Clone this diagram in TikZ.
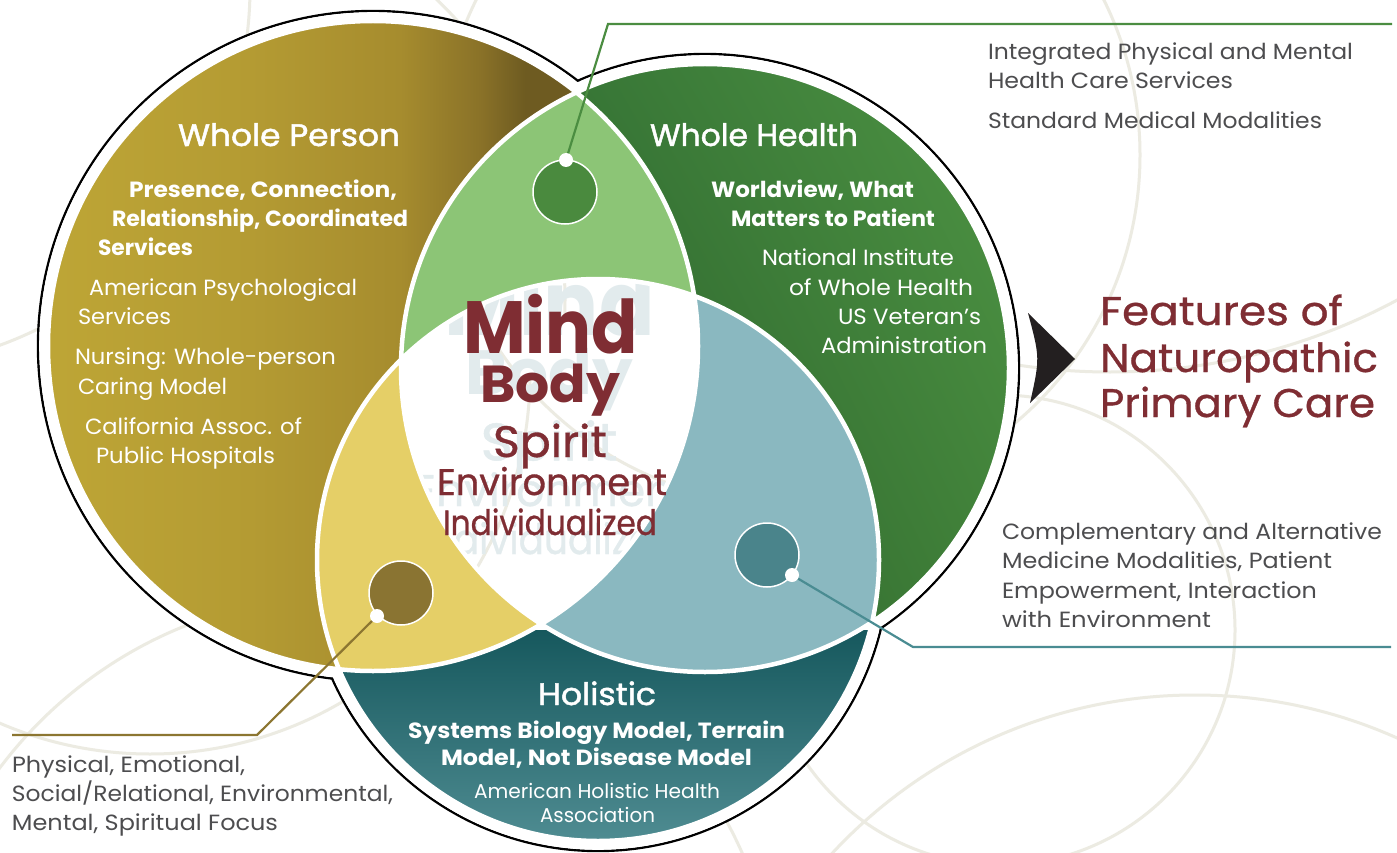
\documentclass[tikz,border=0pt]{standalone}
\usepackage{fontspec}
\setmainfont{Poppins}
\newfontfamily\pmed[FakeBold=0.8]{Poppins}
\newfontfamily\phead[FakeBold=1.5]{Poppins}
\usepackage{graphicx}
\usetikzlibrary{shadings}
\newsavebox{\fitbox}
\newcommand{\fitw}[2]{\sbox{\fitbox}{#2}\pgfmathsetmacro{\fitsx}{#1/\the\wd\fitbox}\scalebox{\fitsx}[1]{\usebox{\fitbox}}}
\definecolor{goldL}{HTML}{BEA636}
\definecolor{goldM1}{HTML}{B49B33}
\definecolor{goldM2}{HTML}{A68C2E}
\definecolor{goldD}{HTML}{8A7228}
\definecolor{goldDD}{HTML}{6E5B21}
\definecolor{lgreen}{HTML}{8CC576}
\definecolor{yelc}{HTML}{E5CF67}
\definecolor{ltealc}{HTML}{8AB8C0}
\definecolor{grUL}{HTML}{2F6B31}
\definecolor{grUR}{HTML}{4E9444}
\definecolor{grLL}{HTML}{1F4D22}
\definecolor{grLR}{HTML}{3F7F38}
\definecolor{tealT}{HTML}{16585D}
\definecolor{tealB}{HTML}{4F8C92}
\definecolor{sgreen}{HTML}{4A8A3E}
\definecolor{sgold}{HTML}{8A7432}
\definecolor{steal}{HTML}{4A848B}
\definecolor{lineg}{HTML}{4B8D41}
\definecolor{lineo}{HTML}{8C7631}
\definecolor{linet}{HTML}{4A8C92}
\definecolor{redc}{HTML}{7F2D33}
\definecolor{ghostc}{HTML}{E2EBED}
\definecolor{grayt}{HTML}{4D4D4F}
\definecolor{bgl}{HTML}{ECEBE2}
\definecolor{arrowc}{HTML}{231F20}
\newcommand{\bgcircles}{%
  \draw[bgc] (790,155) circle (350);
  \draw[bgc] (1000,630) circle (235);
  \draw[bgc] (1195,1190) circle (495);
  \draw[bgc] (346,1028) circle (433);
  \draw[bgc] (-130,-12) circle (380);
  \begin{scope}\clip (-10,380) rectangle (720,860); \draw[bgc] (150,374) circle (380);\end{scope}
  \begin{scope}\clip (-10,-10) rectangle (720,320); \draw[bgc] (149,300) circle (416);\end{scope}
  \begin{scope}\clip (1000,250) rectangle (1397,420); \draw[bgc] (1110,-236) circle (608);\end{scope}
}
\newcommand{\redblock}[2]{%
  \node[anchor=base west, text=#2, font=\bfseries\fontsize{74}{74}\selectfont] (#1mind) at (463,353) {\fitw{175}{Mind}};
  \node[anchor=base west, text=#2, font=\bfseries\fontsize{52}{52}\selectfont] (#1body) at (480,402) {\fitw{140}{Body}};
  \node[anchor=base west, text=#2, font=\pmed\fontsize{44}{44}\selectfont] (#1spirit) at (493,457) {\fitw{114}{Spirit}};
  \node[anchor=base west, text=#2, font=\pmed\fontsize{37}{37}\selectfont] (#1env) at (437,495) {\fitw{230}{Environment}};
  \node[anchor=base west, text=#2, font=\pmed\fontsize{35}{35}\selectfont] (#1ind) at (443,535) {\fitw{214}{Individualized}};
}
\begin{document}
\begin{tikzpicture}[x=1pt,y=-1pt,
  every node/.style={inner sep=0pt, outer sep=0pt},
  bgc/.style={draw=bgl, line width=3pt},
  head/.style={anchor=base west, text=white, font=\phead\fontsize{31}{31}\selectfont},
  subt/.style={anchor=base west, text=white, font=\bfseries\fontsize{22}{22}\selectfont},
  regt/.style={anchor=base west, text=white, font=\fontsize{22}{22}\selectfont},
  grayt/.style={anchor=base west, text=grayt, font=\fontsize{22}{22}\selectfont},
  featt/.style={anchor=base west, text=redc, font=\pmed\fontsize{40}{40}\selectfont},
  smallc/.style={circle, draw=white, line width=1.5pt, minimum size=64pt},
  dotn/.style={circle, fill=white, minimum size=14pt},
  conn/.style={line width=2.2pt}]
\useasboundingbox (0,0) rectangle (1397,853);
\fill[white] (0,0) rectangle (1397,853);
\coordinate (cA) at (373,346);
\coordinate (cB) at (705,368);
\coordinate (cC) at (598,560);
% background pattern
\bgcircles
% outer black outline
\draw[black, line width=2.4pt] (cA) circle (335) (cB) circle (314) (cC) circle (291);
\fill[white] (cA) circle (333.8) (cB) circle (312.8) (cC) circle (289.8);
% gold crescent
\begin{scope}
  \clip (cA) circle (325);
  \shade[left color=goldL, right color=goldM1] (38,15) rectangle (250,680);
  \shade[left color=goldM1, right color=goldM2] (250,15) rectangle (400,680);
  \shade[left color=goldM2, right color=goldD] (400,15) rectangle (480,680);
  \shade[left color=goldD, right color=goldDD] (480,15) rectangle (525,680);
  \fill[goldDD] (525,15) rectangle (705,680);
\end{scope}
% green crescent
\begin{scope}
  \clip (cB) circle (304);
  \shade[upper left=grUL, upper right=grUR, lower left=grLL, lower right=grLR] (400,62) rectangle (1010,674);
\end{scope}
% teal crescent
\begin{scope}
  \clip (cC) circle (281);
  \shade[top color=tealT, bottom color=tealB] (315,630) rectangle (880,842);
\end{scope}
% lenses
\begin{scope}
  \clip (cA) circle (325);
  \fill[lgreen] (cB) circle (304);
  \fill[yelc] (cC) circle (281);
\end{scope}
\begin{scope}
  \clip (cB) circle (304);
  \fill[ltealc] (cC) circle (281);
\end{scope}
% centre
\begin{scope}
  \clip (cA) circle (325);
  \clip (cB) circle (304);
  \clip (cC) circle (281);
  \fill[white] (cC) circle (281);
  \bgcircles
  \begin{scope}[shift={(555,440)}, scale=1.2, shift={(-555,-440)}, transform shape]
    \redblock{g}{ghostc}
  \end{scope}
\end{scope}
% white gaps
\draw[white, line width=4.5pt] (cA) circle (325) (cB) circle (304) (cC) circle (281);
% centre words
\redblock{r}{redc}
% arrow
\fill[arrowc] (1028,313) .. controls (1040,358) .. (1030,403) -- (1075,359) -- cycle;
% small circles and connectors
\node[smallc, fill=sgreen] (sg) at (565,192) {};
\node[smallc, fill=sgold] (so) at (401,593) {};
\node[smallc, fill=steal] (st) at (767,555) {};
\coordinate (dgc) at (566,160);
\coordinate (doc) at (377,616);
\coordinate (dtc) at (792,575);
\coordinate (g1) at (608,24);
\coordinate (g2) at (1392,24);
\coordinate (o1) at (257,735);
\coordinate (o2) at (12,735);
\coordinate (t1) at (913,647);
\coordinate (t2) at (1391,647);
\draw[conn, lineg] (dgc) -- (g1) -- (g2);
\draw[conn, lineo] (doc) -- (o1) -- (o2);
\draw[conn, linet] (dtc) -- (t1) -- (t2);
\node[dotn] (dg) at (dgc) {};
\node[dotn] (do) at (doc) {};
\node[dotn] (dt) at (dtc) {};
% Whole Person
\node[head] (wp) at (178,146) {\fitw{222}{Whole Person}};
\node[subt] (wp1) at (129,197) {\fitw{268}{Presence, Connection,}};
\node[subt] (wp2) at (112,226) {\fitw{296}{Relationship, Coordinated}};
\node[subt] (wp3) at (98,255) {\fitw{95}{Services}};
\node[regt] (wp4) at (89,295) {\fitw{268}{American Psychological}};
\node[regt] (wp5) at (78,324) {\fitw{93}{Services}};
\node[regt] (wp6) at (75,364) {\fitw{261}{Nursing: Whole-person}};
\node[regt] (wp7) at (78,394) {\fitw{149}{Caring Model}};
\node[regt] (wp8) at (85,434) {\fitw{217}{California Assoc. of}};
\node[regt] (wp9) at (96,463) {\fitw{179}{Public Hospitals}};
% Whole Health
\node[head] (wh) at (650,146) {\fitw{208}{Whole Health}};
\node[subt] (wh1) at (711,197) {\fitw{203}{Worldview, What}};
\node[subt] (wh2) at (731,226) {\fitw{204}{Matters to Patient}};
\node[regt] (wh3) at (762,265) {\fitw{192}{National Institute}};
\node[regt] (wh4) at (789,295) {\fitw{184}{of Whole Health}};
\node[regt] (wh5) at (838,324) {\fitw{143}{US Veteran’s}};
\node[regt] (wh6) at (821,353) {\fitw{166}{Administration}};
% Holistic
\node[head] (ho) at (538,705) {\fitw{118}{Holistic}};
\node[subt] (ho1) at (408,738) {\fitw{377}{Systems Biology Model, Terrain}};
\node[subt] (ho2) at (441,765) {\fitw{311}{Model, Not Disease Model}};
\node[regt, font=\fontsize{20}{20}\selectfont] (ho3) at (474,798) {\fitw{246}{American Holistic Health}};
\node[regt, font=\fontsize{20}{20}\selectfont] (ho4) at (540,822) {\fitw{115}{Association}};
% top right
\node[grayt] (tr1) at (988,60) {\fitw{365}{Integrated Physical and Mental}};
\node[grayt] (tr2) at (988,89) {\fitw{245}{Health Care Services}};
\node[grayt] (tr3) at (988,129) {\fitw{334}{Standard Medical Modalities}};
% features
\node[featt] (f1) at (1100,325) {\fitw{243}{Features of}};
\node[featt] (f2) at (1100,372) {\fitw{278}{Naturopathic}};
\node[featt] (f3) at (1100,417) {\fitw{275}{Primary Care}};
% right middle
\node[grayt] (cm1) at (1002,539) {\fitw{380}{Complementary and Alternative}};
\node[grayt] (cm2) at (1002,568) {\fitw{330}{Medicine Modalities, Patient}};
\node[grayt] (cm3) at (1002,598) {\fitw{315}{Empowerment, Interaction}};
\node[grayt] (cm4) at (1002,627) {\fitw{209}{with Environment}};
% bottom left
\node[grayt] (bl1) at (12,772) {\fitw{233}{Physical, Emotional,}};
\node[grayt] (bl2) at (12,801) {\fitw{381}{Social/Relational, Environmental,}};
\node[grayt] (bl3) at (12,830) {\fitw{266}{Mental, Spiritual Focus}};
\end{tikzpicture}
\end{document}
